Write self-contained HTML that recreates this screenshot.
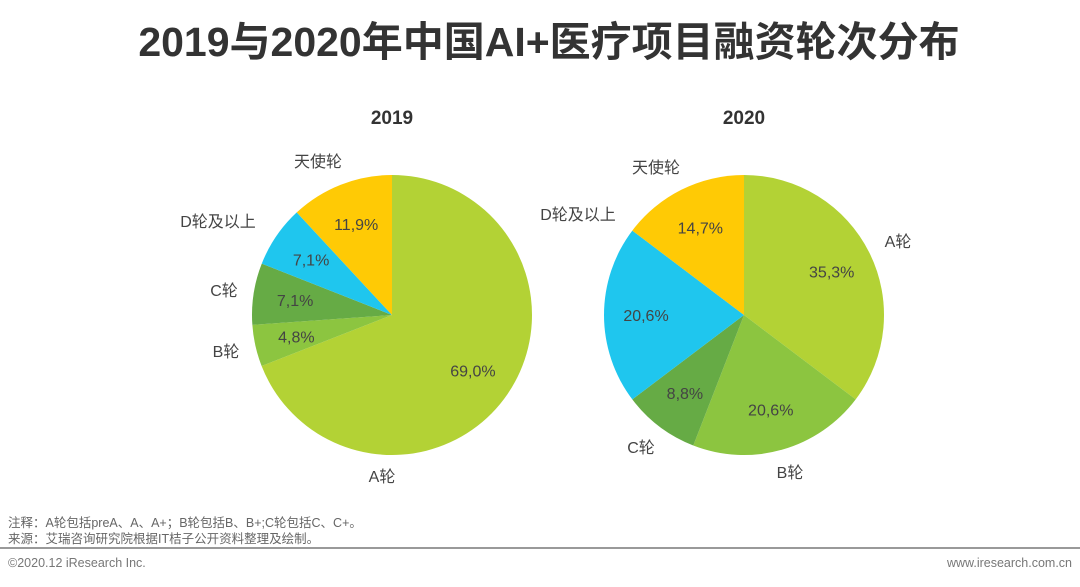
<!DOCTYPE html>
<html><head><meta charset="utf-8"><style>
body{margin:0;width:1080px;height:582px;background:#fff;overflow:hidden;font-family:"Liberation Sans","Noto Sans CJK SC",sans-serif}
</style></head><body>
<svg id="c" width="1080" height="582" xmlns="http://www.w3.org/2000/svg">
<text x="549" y="56" text-anchor="middle" font-size="41" font-weight="bold" fill="#333" font-family="Liberation Sans,Noto Sans CJK SC,sans-serif">2019与2020年中国AI+医疗项目融资轮次分布</text>
<text x="8" y="527" font-size="12.5" fill="#666" font-family="Liberation Sans,Noto Sans CJK SC,sans-serif">注释：A轮包括preA、A、A+；B轮包括B、B+;C轮包括C、C+。</text>
<text x="8" y="543" font-size="12.5" fill="#666" font-family="Liberation Sans,Noto Sans CJK SC,sans-serif">来源：艾瑞咨询研究院根据IT桔子公开资料整理及绘制。</text>
<rect x="0" y="547" width="1080" height="2" fill="#999"/>
<text x="8" y="567" font-size="12.5" fill="#777" font-family="Liberation Sans,sans-serif">©2020.12 iResearch Inc.</text>
<text x="1072" y="567" text-anchor="end" font-size="12.5" fill="#777" font-family="Liberation Sans,sans-serif">www.iresearch.com.cn</text>
</svg>
<script>
const categories=["A轮","B轮","C轮","D轮及以上","天使轮"];
const values2019=[69.0,4.8,7.1,7.1,11.9];
const values2020=[35.3,20.6,8.8,20.6,14.7];
const years=["2019","2020"];
const colors=["#b3d235","#8cc540","#66ab45","#1fc6ee","#ffca05"];
// layout only: category label centers
const catPos2019=[[382,476],[226,351],[224,290],[218,221],[318,161]];
const catPos2020=[[898,241],[790,472],[641,447],[578,214],[656,167]];
const svg=document.getElementById('c');
const NS="http://www.w3.org/2000/svg";
const F="Liberation Sans,Noto Sans CJK SC,sans-serif";
function pie(cx,cy,r,vals,year,catPos){
  const t=document.createElementNS(NS,'text');
  
  
  t.setAttribute('x',cx);t.setAttribute('y',124);t.setAttribute('text-anchor','middle');
  t.setAttribute('font-size','19');t.setAttribute('font-weight','bold');t.setAttribute('fill','#333');t.setAttribute('font-family',F);
  t.textContent=year;svg.appendChild(t);
  const tot=vals.reduce((a,b)=>a+b,0);let a0=0;
  vals.forEach((v,i)=>{
    const a1=a0+v/tot*2*Math.PI;
    const p=(a)=>[cx+r*Math.sin(a),cy-r*Math.cos(a)];
    const [x0,y0]=p(a0),[x1,y1]=p(a1);
    const path=document.createElementNS(NS,'path');
    
    
    path.setAttribute('d',`M${cx},${cy}L${x0},${y0}A${r},${r} 0 ${a1-a0>Math.PI?1:0} 1 ${x1},${y1}Z`);
    path.setAttribute('fill',colors[i]);svg.appendChild(path);
    const m=(a0+a1)/2;
    const lt=document.createElementNS(NS,'text');
    
    
    lt.setAttribute('x',cx+r*0.7*Math.sin(m));lt.setAttribute('y',cy-r*0.7*Math.cos(m)+6);
    lt.setAttribute('text-anchor','middle');lt.setAttribute('font-size','16');lt.setAttribute('fill','#444');lt.setAttribute('font-family',F);
    lt.textContent=v.toFixed(1).replace('.',',')+'%';svg.appendChild(lt);
    const ct=document.createElementNS(NS,'text');
    
    
    ct.setAttribute('x',catPos[i][0]);ct.setAttribute('y',catPos[i][1]+6);
    ct.setAttribute('text-anchor','middle');
    ct.setAttribute('font-size','16');ct.setAttribute('fill','#444');ct.setAttribute('font-family',F);
    ct.textContent=categories[i];svg.appendChild(ct);
    a0=a1;
  });
}
pie(392,315,140,values2019,years[0],catPos2019);
pie(744,315,140,values2020,years[1],catPos2020);
</script>
</body></html>
